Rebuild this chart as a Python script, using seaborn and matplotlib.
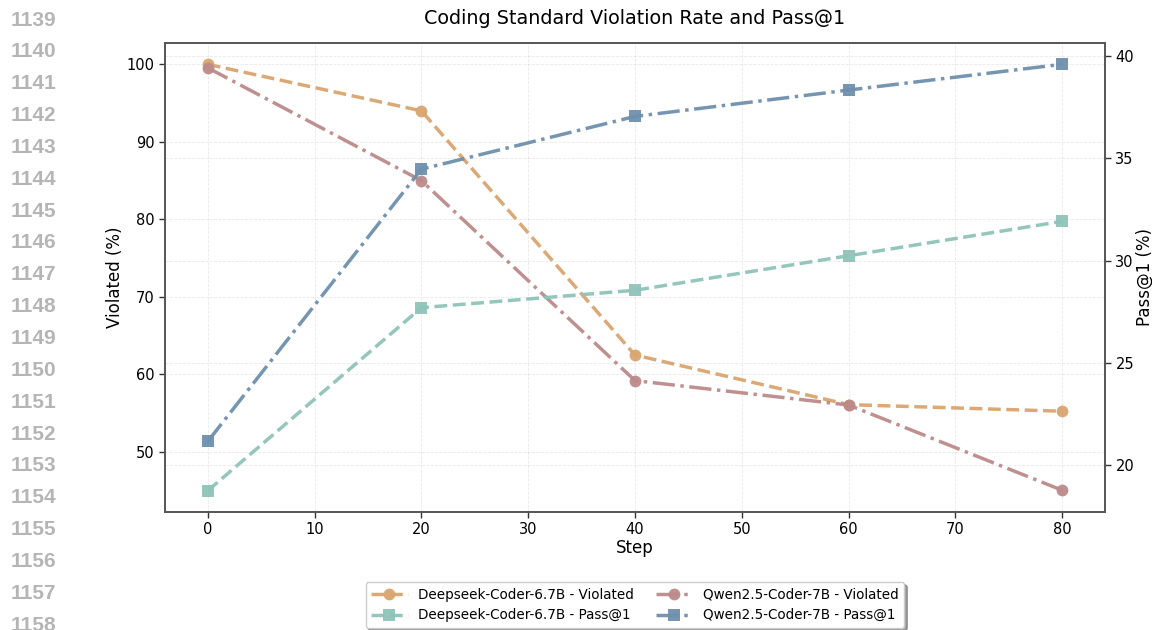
import matplotlib
matplotlib.use("Agg")
import matplotlib.pyplot as plt
import seaborn as sns
import pandas as pd

steps = [0, 20, 40, 60, 80]
ds_violated = [100.0, 94.0, 62.5, 56.1, 55.25]
qw_violated = [99.55, 85.0, 59.2, 56.05, 45.05]
ds_pass = [18.75, 27.7, 28.55, 30.24, 31.92]
qw_pass = [21.16, 34.47, 37.05, 38.34, 39.6]

line_numbers = list(range(1139, 1159))

title = "Coding Standard Violation Rate and Pass@1"
labels = ["Deepseek-Coder-6.7B - Violated", "Qwen2.5-Coder-7B - Violated",
          "Deepseek-Coder-6.7B - Pass@1", "Qwen2.5-Coder-7B - Pass@1"]

sns.set_theme(style="white")
plt.rcParams['font.family'] = ['DejaVu Sans']
plt.rcParams.update({"text.color": "black", "axes.labelcolor": "black",
                     "xtick.color": "black", "ytick.color": "black"})

fig = plt.figure(figsize=(11.52, 6.30), dpi=100)
ax = fig.add_axes([165/1152, 1-512/630, (1105-165)/1152, (512-43)/630])
ax2 = ax.twinx()

c_dv = "#D9A56E"
c_qv = "#BC8A8A"
c_dp = "#8FC3B9"
c_qp = "#6E8FAD"

df = pd.DataFrame({"step": steps, "dv": ds_violated, "qv": qw_violated,
                   "dp": ds_pass, "qp": qw_pass})

lw = 2.5
sns.lineplot(data=df, x="step", y="dv", ax=ax, color=c_dv, linestyle="--",
             marker="o", markersize=8.5, linewidth=lw, markeredgewidth=0,
             alpha=0.95, label=labels[0], legend=False)
sns.lineplot(data=df, x="step", y="qv", ax=ax, color=c_qv, linestyle="-.",
             marker="o", markersize=8.5, linewidth=lw, markeredgewidth=0,
             alpha=0.95, label=labels[1], legend=False)
sns.lineplot(data=df, x="step", y="dp", ax=ax2, color=c_dp, linestyle="--",
             marker="s", markersize=9, linewidth=lw, markeredgewidth=0,
             alpha=0.95, label=labels[2], legend=False)
sns.lineplot(data=df, x="step", y="qp", ax=ax2, color=c_qp, linestyle="-.",
             marker="s", markersize=9, linewidth=lw, markeredgewidth=0,
             alpha=0.95, label=labels[3], legend=False)

ax.set_xlim(-4, 84)
ax.set_ylim(42.25, 102.75)
ax2.set_ylim(17.71, 40.64)
ax.set_xticks([0, 10, 20, 30, 40, 50, 60, 70, 80])
ax.set_yticks([50, 60, 70, 80, 90, 100])
ax2.set_yticks([20, 25, 30, 35, 40])

ax.grid(True, linestyle="--", linewidth=0.6, alpha=0.22, color="#999999")
ax2.grid(True, axis="y", linestyle="--", linewidth=0.6, alpha=0.22, color="#999999")

ax.set_xlabel("Step", fontsize=12, labelpad=1)
ax.set_ylabel("Violated (%)", fontsize=12, labelpad=2)
ax2.set_ylabel("Pass@1 (%)", fontsize=12, labelpad=1)
ax.set_title(title, fontsize=13.8, pad=14)

for a in (ax, ax2):
    a.tick_params(axis="both", which="major", labelsize=10.5, length=4, width=1,
                  color="#333333", direction="out")
    for s in a.spines.values():
        s.set_color("#555555")
        s.set_linewidth(1.2)
ax.tick_params(left=True, bottom=True)
ax2.tick_params(right=True)

h1, l1 = ax.get_legend_handles_labels()
h2, l2 = ax2.get_legend_handles_labels()
order_h = [h1[0], h2[0], h1[1], h2[1]]
order_l = [l1[0], l2[0], l1[1], l2[1]]
leg = ax.legend(order_h, order_l, loc="upper center", bbox_to_anchor=(0.5, -0.135),
                ncol=2, fontsize=9.75, frameon=True, shadow=True, fancybox=True,
                columnspacing=1.6, handlelength=2.7, handletextpad=0.8)

for i, n in enumerate(line_numbers):
    fig.text(33/1152, 1 - (20 + i * 31.85) / 630, str(n), ha="center", va="center",
             fontsize=15, fontweight="bold", color="#b5b5b5",
             family=["Liberation Sans", "DejaVu Sans"])

fig.savefig("out.png", dpi=100)
